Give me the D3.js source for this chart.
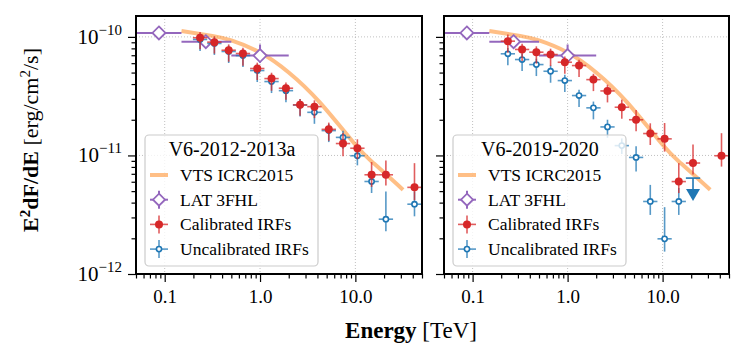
<!DOCTYPE html>
<html lang="en">
<head>
<meta charset="utf-8">
<title>Crab SED</title>
<script src="https://d3js.org/d3.v7.min.js"></script>
<style>
  body { margin: 0; background: #fff; }
  text { font-family: "Liberation Serif", "DejaVu Serif", serif; fill: #000; }
</style>
</head>
<body>
<svg width="747" height="364"></svg>
<script>
// energy bins (TeV), shared by both panels; the 15th bin has no point
var energies = [0.235, 0.332, 0.469, 0.662, 0.935, 1.32, 1.87, 2.63, 3.72, 5.26, 7.42, 10.5, 14.8, 20.9, 29.5, 41.7];
var halfBin = 1.189; // bins are 0.15 dex wide

// left panel: V6-2012-2013a
var calA  = [9.83e-11, 9.03e-11, 7.72e-11, 7.24e-11, 5.41e-11, 4.45e-11, 3.69e-11, 2.67e-11, 2.58e-11, 1.66e-11, 1.26e-11, 1.15e-11, 6.87e-12, 6.87e-12, null, 5.38e-12];
var calALo = [0.2, 0.2, 0.2, 0.21, 0.2, 0.21, 0.2, 0.19, 0.2, 0.2, 0.22, 0.19, 0.21, 0.19, null, 0.22];
var calAHi = [0.12, 0.12, 0.12, 0.12, 0.12, 0.12, 0.12, 0.12, 0.13, 0.14, 0.23, 0.19, 0.28, 0.32, null, 0.6];
var uncA  = [9.51e-11, 8.80e-11, 7.53e-11, 6.96e-11, 5.20e-11, 4.20e-11, 3.52e-11, 2.66e-11, 2.31e-11, 1.62e-11, 1.42e-11, 9.94e-12, 6.03e-12, 2.90e-12, null, 3.88e-12];
var uncALo = [0.2, 0.2, 0.2, 0.2, 0.2, 0.2, 0.2, 0.2, 0.2, 0.2, 0.2, 0.17, 0.2, 0.21, null, 0.21];
var uncAHi = [0.12, 0.12, 0.12, 0.12, 0.12, 0.12, 0.12, 0.12, 0.14, 0.14, 0.14, 0.12, 0.18, 0.71, null, 0.28];

// right panel: V6-2019-2020
var calB  = [9.20e-11, 7.83e-11, 7.43e-11, 7.10e-11, 6.11e-11, 5.73e-11, 4.36e-11, 3.50e-11, 2.55e-11, 2.00e-11, 1.53e-11, 1.38e-11, 6.02e-12, 8.63e-12, null, 9.94e-12];
var calBLo = [0.2, 0.2, 0.2, 0.2, 0.2, 0.2, 0.2, 0.2, 0.2, 0.2, 0.2, 0.22, 0.2, 0.2, null, 0.19];
var calBHi = [0.14, 0.12, 0.12, 0.12, 0.12, 0.12, 0.12, 0.13, 0.16, 0.21, 0.22, 0.36, 0.43, 0.43, null, 0.55];
var uncB  = [7.20e-11, 6.44e-11, 5.84e-11, 5.13e-11, 4.28e-11, 3.20e-11, 2.52e-11, 1.74e-11, 1.21e-11, 9.62e-12, 4.09e-12, 1.98e-12, 4.09e-12, null, null, null];
var uncBLo = [0.2, 0.2, 0.2, 0.2, 0.2, 0.2, 0.2, 0.19, 0.15, 0.24, 0.23, 0.22, 0.23, null, null, null];
var uncBHi = [0.12, 0.12, 0.12, 0.12, 0.12, 0.12, 0.13, 0.15, 0.15, 0.24, 0.38, 0.85, 0.3, null, null, null];
var uncBUL = {e: 20.9, f: 6.44e-12}; // upper limit, uncalibrated 2019-2020

// Fermi-LAT 3FHL
var latE   = [0.087, 0.27, 1.0];
var latBin = [[0.05, 0.15], [0.15, 0.5], [0.5, 2.0]];
var latF   = [1.08e-10, 9.1e-11, 6.96e-11];
var latLo  = [0.03, 0.03, 0.13];
var latHi  = [0.03, 0.03, 0.24];

// VERITAS ICRC2015 spectrum
var vtsE = [0.15, 0.316, 0.5, 1.0, 2.0, 4.26, 10.0, 15.8, 31.7];
var vtsF = [1.12e-10, 1.02e-10, 9.33e-11, 7.38e-11, 5.01e-11, 2.79e-11, 1.23e-11, 8.5e-12, 5.13e-12];

var panels = [
  {title: "V6-2012-2013a", x0: 136, x1: 422, cal: calA, calLo: calALo, calHi: calAHi, unc: uncA, uncLo: uncALo, uncHi: uncAHi, ul: null, legX: 145},
  {title: "V6-2019-2020", x0: 444, x1: 729, cal: calB, calLo: calBLo, calHi: calBHi, unc: uncB, uncLo: uncBLo, uncHi: uncBHi, ul: uncBUL, legX: 453}
];

var red = "#d62728", blue = "#1f77b4", purple = "#9467bd", orange = "#ff7f0e";
var yTop = 16, yBottom = 274;

var svg = d3.select("svg");
var y = d3.scaleLog().domain([1e-12, 1.5e-10]).range([yBottom, yTop]);

var xMajor = [0.1, 1, 10];
var xMinor = [0.05, 0.06, 0.07, 0.08, 0.09, 0.2, 0.3, 0.4, 0.5, 0.6, 0.7, 0.8, 0.9, 2, 3, 4, 5, 6, 7, 8, 9, 20, 30, 40, 50];
var yMajor = [1e-12, 1e-11, 1e-10];
var yMinor = [];
[1e-12, 1e-11, 1e-10].forEach(function(d) {
  for (var k = 2; k <= 9; k++) if (d * k <= 1.5e-10) yMinor.push(d * k);
});

panels.forEach(function(p, pi) {
  var x = d3.scaleLog().domain([0.05, 50]).range([p.x0, p.x1]);
  var g = svg.append("g");

  var clipId = "clip" + pi;
  svg.append("clipPath").attr("id", clipId).append("rect")
    .attr("x", p.x0).attr("y", yTop).attr("width", p.x1 - p.x0).attr("height", yBottom - yTop);

  // grid
  var grid = g.append("g").attr("stroke", "#b0b0b0").attr("stroke-width", 0.8).attr("stroke-dasharray", "1,2");
  xMajor.forEach(function(d) {
    grid.append("line").attr("x1", x(d)).attr("x2", x(d)).attr("y1", yTop).attr("y2", yBottom);
  });
  [1e-11, 1e-10].forEach(function(d) {
    grid.append("line").attr("x1", p.x0).attr("x2", p.x1).attr("y1", y(d)).attr("y2", y(d));
  });

  var plot = g.append("g").attr("clip-path", "url(#" + clipId + ")");

  // VTS curve
  plot.append("path")
    .datum(vtsE.map(function(e, i) { return [e, vtsF[i]]; }))
    .attr("fill", "none").attr("stroke", orange).attr("stroke-opacity", 0.5)
    .attr("stroke-width", 4)
    .attr("d", d3.line().x(function(d) { return x(d[0]); }).y(function(d) { return y(d[1]); }).curve(d3.curveNatural));

  // LAT points
  latE.forEach(function(e, i) {
    var f = latF[i];
    plot.append("line").attr("x1", x(latBin[i][0])).attr("x2", x(latBin[i][1]))
      .attr("y1", y(f)).attr("y2", y(f)).attr("stroke", purple).attr("stroke-width", 2);
    plot.append("line").attr("x1", x(e)).attr("x2", x(e))
      .attr("y1", y(f * (1 - latLo[i]))).attr("y2", y(f * (1 + latHi[i])))
      .attr("stroke", purple).attr("stroke-width", 2);
    plot.append("path").attr("transform", "translate(" + x(e) + "," + y(f) + ")")
      .attr("d", "M0,-6.5L6.5,0L0,6.5L-6.5,0Z")
      .attr("fill", "#fff").attr("stroke", purple).attr("stroke-width", 1.8);
  });

  function series(vals, lo, hi, color, filled) {
    energies.forEach(function(e, i) {
      var f = vals[i];
      if (f == null) return;
      var s = plot.append("g").attr("stroke", color).attr("stroke-opacity", 0.75).attr("stroke-width", 1.6);
      s.append("line").attr("x1", x(e / halfBin)).attr("x2", x(e * halfBin)).attr("y1", y(f)).attr("y2", y(f));
      s.append("line").attr("x1", x(e)).attr("x2", x(e)).attr("y1", y(f * (1 - lo[i]))).attr("y2", y(f * (1 + hi[i])));
      if (filled) {
        plot.append("circle").attr("cx", x(e)).attr("cy", y(f)).attr("r", 4).attr("fill", color);
      } else {
        plot.append("circle").attr("cx", x(e)).attr("cy", y(f)).attr("r", 2.6)
          .attr("fill", "#fff").attr("stroke", color).attr("stroke-width", 1.6);
      }
    });
  }
  series(p.unc, p.uncLo, p.uncHi, blue, false);
  series(p.cal, p.calLo, p.calHi, red, true);

  if (p.ul) {
    var ux = x(p.ul.e), uy = y(p.ul.f);
    var u = plot.append("g").attr("stroke", blue).attr("stroke-width", 1.6);
    u.append("line").attr("x1", x(p.ul.e / halfBin)).attr("x2", x(p.ul.e * halfBin)).attr("y1", uy).attr("y2", uy);
    u.append("line").attr("x1", ux).attr("x2", ux).attr("y1", uy).attr("y2", uy + 12);
    plot.append("path").attr("transform", "translate(" + ux + "," + (uy + 11) + ")")
      .attr("d", "M-7,0L7,0L0,12Z").attr("fill", blue);
  }

  // axes
  var xAxis = g.append("g").attr("transform", "translate(0," + yBottom + ")");
  xAxis.call(d3.axisBottom(x).tickValues(xMajor).tickSize(8).tickPadding(8)
    .tickFormat(function(d) { return d3.format(".1f")(d); }));
  xAxis.append("g").call(d3.axisBottom(x).tickValues(xMinor).tickSize(4.5).tickFormat(""));
  xAxis.selectAll("text").style("font-size", "19px");

  var yAxis = g.append("g").attr("transform", "translate(" + p.x0 + ",0)");
  yAxis.call(d3.axisLeft(y).tickValues(yMajor).tickSize(8).tickPadding(6).tickFormat(""));
  yAxis.append("g").call(d3.axisLeft(y).tickValues(yMinor).tickSize(4.5).tickFormat(""));
  svg.selectAll(".domain").remove();
  g.selectAll(".tick line").attr("stroke-width", 1.2);

  if (pi === 0) {
    yMajor.forEach(function(d) {
      var t = g.append("text").attr("x", p.x0 - 14).attr("y", y(d) + 7)
        .attr("text-anchor", "end").style("font-size", "21px");
      t.append("tspan").text("10");
      t.append("tspan").attr("dy", -9).style("font-size", "15px").text("\u2212" + Math.round(-Math.log10(d)));
    });
  }

  // frame
  g.append("rect").attr("x", p.x0).attr("y", yTop).attr("width", p.x1 - p.x0).attr("height", yBottom - yTop)
    .attr("fill", "none").attr("stroke", "#000").attr("stroke-width", 2);

  // legend
  var lx = p.legX, ly = 135;
  var leg = g.append("g");
  leg.append("rect").attr("x", lx).attr("y", ly).attr("width", 173).attr("height", 131).attr("rx", 4)
    .attr("fill", "#fff").attr("fill-opacity", 0.8).attr("stroke", "#cccccc").attr("stroke-width", 1.2);
  leg.append("text").attr("x", lx + 87).attr("y", ly + 21).attr("text-anchor", "middle")
    .style("font-size", "20px").text(p.title);
  var items = ["VTS ICRC2015", "LAT 3FHL", "Calibrated IRFs", "Uncalibrated IRFs"];
  items.forEach(function(label, i) {
    var cy = ly + 40 + i * 24.7, hx = lx + 14;
    leg.append("text").attr("x", lx + 35).attr("y", cy + 6).style("font-size", "17.5px").text(label);
    if (i === 0) {
      leg.append("line").attr("x1", hx - 9).attr("x2", hx + 9).attr("y1", cy).attr("y2", cy)
        .attr("stroke", orange).attr("stroke-opacity", 0.5).attr("stroke-width", 4);
    } else if (i === 1) {
      leg.append("line").attr("x1", hx - 9).attr("x2", hx + 9).attr("y1", cy).attr("y2", cy).attr("stroke", purple).attr("stroke-width", 2);
      leg.append("line").attr("x1", hx).attr("x2", hx).attr("y1", cy - 9).attr("y2", cy + 9).attr("stroke", purple).attr("stroke-width", 2);
      leg.append("path").attr("transform", "translate(" + hx + "," + cy + ")").attr("d", "M0,-6L6,0L0,6L-6,0Z")
        .attr("fill", "#fff").attr("stroke", purple).attr("stroke-width", 1.8);
    } else {
      var c = i === 2 ? red : blue;
      leg.append("line").attr("x1", hx - 9).attr("x2", hx + 9).attr("y1", cy).attr("y2", cy).attr("stroke", c).attr("stroke-opacity", 0.75).attr("stroke-width", 1.6);
      leg.append("line").attr("x1", hx).attr("x2", hx).attr("y1", cy - 9).attr("y2", cy + 9).attr("stroke", c).attr("stroke-opacity", 0.75).attr("stroke-width", 1.6);
      if (i === 2) leg.append("circle").attr("cx", hx).attr("cy", cy).attr("r", 4).attr("fill", red);
      else leg.append("circle").attr("cx", hx).attr("cy", cy).attr("r", 2.6).attr("fill", "#fff").attr("stroke", blue).attr("stroke-width", 1.6);
    }
  });
});

// axis titles
var xl = svg.append("text").attr("x", 411).attr("y", 338).attr("text-anchor", "middle").style("font-size", "23px");
xl.append("tspan").style("font-weight", "bold").text("Energy");
xl.append("tspan").text(" [TeV]");

var yl = svg.append("text").attr("transform", "translate(38,140) rotate(-90)").attr("text-anchor", "middle").style("font-size", "22px");
yl.append("tspan").style("font-weight", "bold").text("E");
yl.append("tspan").attr("dy", -8).style("font-size", "15px").style("font-weight", "bold").text("2");
yl.append("tspan").attr("dy", 8).style("font-weight", "bold").text("dF/dE");
yl.append("tspan").text(" [erg/cm");
yl.append("tspan").attr("dy", -8).style("font-size", "15px").text("2");
yl.append("tspan").attr("dy", 8).text("/s]");
</script>
</body>
</html>
